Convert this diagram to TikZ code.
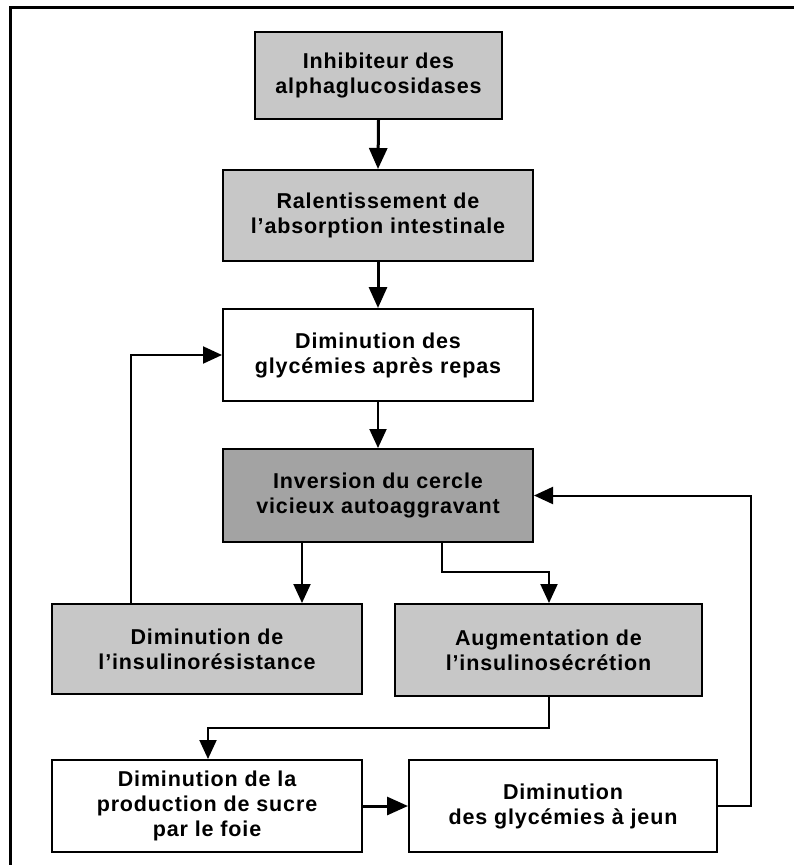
\documentclass[tikz,border=0pt]{standalone}
\usepackage{fontspec}
\setmainfont[LetterSpace=4]{Liberation Sans}
\usetikzlibrary{arrows.meta}
\begin{document}
\begin{tikzpicture}[x=1pt,y=-1pt,
  box/.style={draw=black, line width=2pt, align=center, inner sep=0pt,
    font=\fontsize{21.5}{25}\selectfont\bfseries},
  lite/.style={box, fill=black!22},
  dark/.style={box, fill=black!36},
  white/.style={box, fill=white},
  thickarr/.style={line width=3pt, -{Triangle[length=21pt,width=18pt]}},
  thinarr/.style={line width=2pt, -{Triangle[length=19pt,width=17pt]}},
  frame/.style={line width=3pt}]
\useasboundingbox (0,0) rectangle (794,865);
% outer frame (top and left)
\coordinate (fa) at (10,7);
\coordinate (fb) at (794,7);
\coordinate (fc) at (10,865);
\draw[frame] (fb) -- (fa) -- (fc);

\node[lite, minimum width=247pt, minimum height=87pt] (b1) at (378.5,75.5)
  {Inhibiteur des\\alphaglucosidases};
\node[lite, minimum width=310pt, minimum height=91pt] (b2) at (378,215.5)
  {Ralentissement de\\l'absorption intestinale};
\node[white, minimum width=310pt, minimum height=92pt] (b3) at (378,355)
  {Diminution des\\glycémies après repas};
\node[dark, minimum width=310pt, minimum height=93pt] (b4) at (378,495.5)
  {Inversion du cercle\\vicieux autoaggravant};
\node[lite, minimum width=310pt, minimum height=90pt] (b5) at (207,649)
  {Diminution de\\l'insulinorésistance};
\node[lite, minimum width=307pt, minimum height=92pt] (b6) at (548.5,650)
  {Augmentation de\\l'insulinosécrétion};
\node[white, minimum width=310pt, minimum height=92pt] (b7) at (207,806)
  {Diminution de la\\production de sucre\\par le foie};
\node[white, minimum width=308pt, minimum height=92pt] (b8) at (563,806)
  {Diminution\\des glycémies à jeun};

% helper coordinates for bends
\coordinate (c1) at (302,0);
\coordinate (k1) at (442,572);
\coordinate (k2) at (549,572);
\coordinate (k3) at (549,728);
\coordinate (k4) at (208,728);
\coordinate (k5) at (131,355);
\coordinate (k7) at (751,495.5);

\draw[thickarr] (b1.south) -- (b2.north);
\draw[thickarr] (b2.south) -- (b3.north);
\draw[thinarr] (b3.south) -- (b4.north);
\draw[thinarr] (b4.south -| c1) -- (b5.north -| c1);
\draw[thinarr] (b4.south -| k1) -- (k1) -- (k2) -- (b6.north -| k2);
\draw[thinarr] (b6.south -| k3) -- (k3) -- (k4) -- (b7.north -| k4);
\draw[thinarr] (b5.north -| k5) -- (k5) -- (b3.west);
\draw[thickarr] (b7.east) -- (b8.west);
\draw[thinarr] (b8.east) -- (b8.east -| k7) -- (k7) -- (b4.east);
\end{tikzpicture}
\end{document}
